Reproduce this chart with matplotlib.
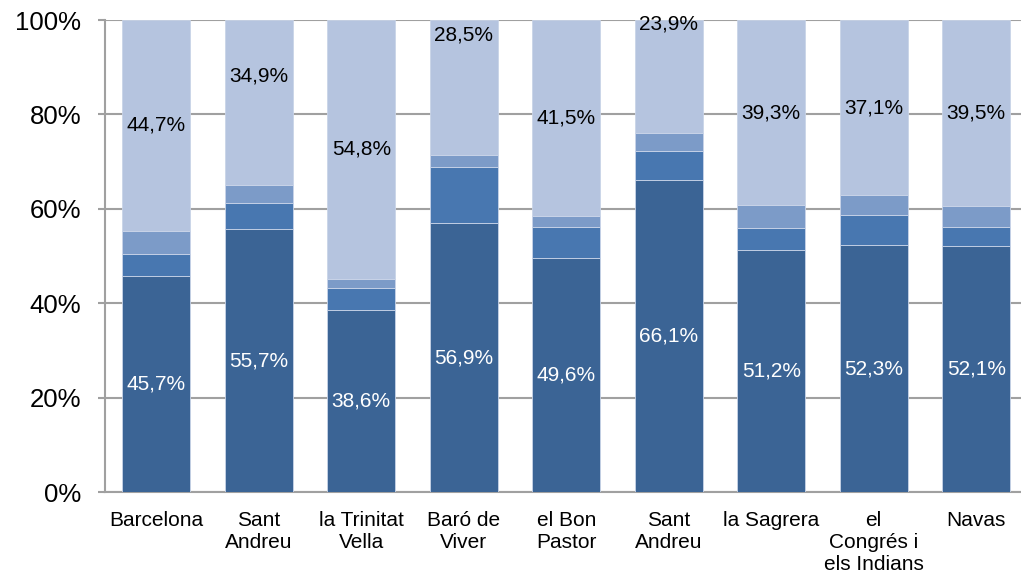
import matplotlib
matplotlib.use("Agg")
import matplotlib.pyplot as plt
import numpy as np

plt.rcParams['font.family'] = ['Liberation Sans', 'DejaVu Sans']

# Neighbourhoods (share of four categories, %)
categories = ["Barcelona", "Sant\nAndreu", "la Trinitat\nVella", "Baró de\nViver",
              "el Bon\nPastor", "Sant\nAndreu", "la Sagrera", "el\nCongrés i\nels Indians",
              "Navas"]
seg_bottom = [45.7, 55.7, 38.6, 56.9, 49.6, 66.1, 51.2, 52.3, 52.1]
seg_mid1 = [4.8, 5.6, 4.6, 12.0, 6.6, 6.1, 4.7, 6.3, 4.1]
seg_mid2 = [4.8, 3.8, 2.0, 2.6, 2.3, 3.9, 4.8, 4.3, 4.3]
seg_top = [44.7, 34.9, 54.8, 28.5, 41.5, 23.9, 39.3, 37.1, 39.5]

colors = ["#3B6495", "#4877B0", "#7C9BC8", "#B5C4DF"]
# some top labels were moved up in the original chart
top_label_y = {1: 88.2, 3: 96.8, 5: 99.2}

fig = plt.figure(figsize=(10.21, 5.74), dpi=100)
ax = fig.add_axes([105 / 1021, 82 / 574, 922.5 / 1021, 472 / 574])

x = np.arange(len(categories))
w = 0.66
bottom = np.zeros(len(categories))
for vals, c in zip([seg_bottom, seg_mid1, seg_mid2, seg_top], colors):
    ax.bar(x, vals, w, bottom=bottom, color=c, edgecolor="#C9D4E8",
           linewidth=0.6, zorder=3)
    bottom += np.array(vals)

for i in range(len(categories)):
    ax.text(x[i], seg_bottom[i] / 2, f"{seg_bottom[i]:.1f}%".replace(".", ","),
            ha="center", va="center", color="white", fontsize=15, zorder=4)
    y_top = top_label_y.get(i, 100 - seg_top[i] / 2)
    ax.text(x[i], y_top, f"{seg_top[i]:.1f}%".replace(".", ","),
            ha="center", va="center", color="black", fontsize=15, zorder=4)

ax.set_xlim(-0.5, len(categories) - 0.5)
ax.set_ylim(0, 100)
ax.set_yticks([0, 20, 40, 60, 80, 100])
ax.set_yticklabels(["0%", "20%", "40%", "60%", "80%", "100%"], fontsize=18.5)
ax.set_xticks(x)
ax.set_xticklabels(categories, fontsize=15, linespacing=1.2, va="top")
ax.tick_params(axis="x", length=0, pad=14)
ax.tick_params(axis="y", length=5, color="#A0A0A0", width=1.5, pad=12)

ax.grid(axis="y", color="#A0A0A0", linewidth=1.5, zorder=0)
for s in ["top", "right"]:
    ax.spines[s].set_visible(False)
for s in ["left", "bottom"]:
    ax.spines[s].set_color("#A0A0A0")
    ax.spines[s].set_linewidth(1.5)

fig.savefig("out.png", dpi=100)
